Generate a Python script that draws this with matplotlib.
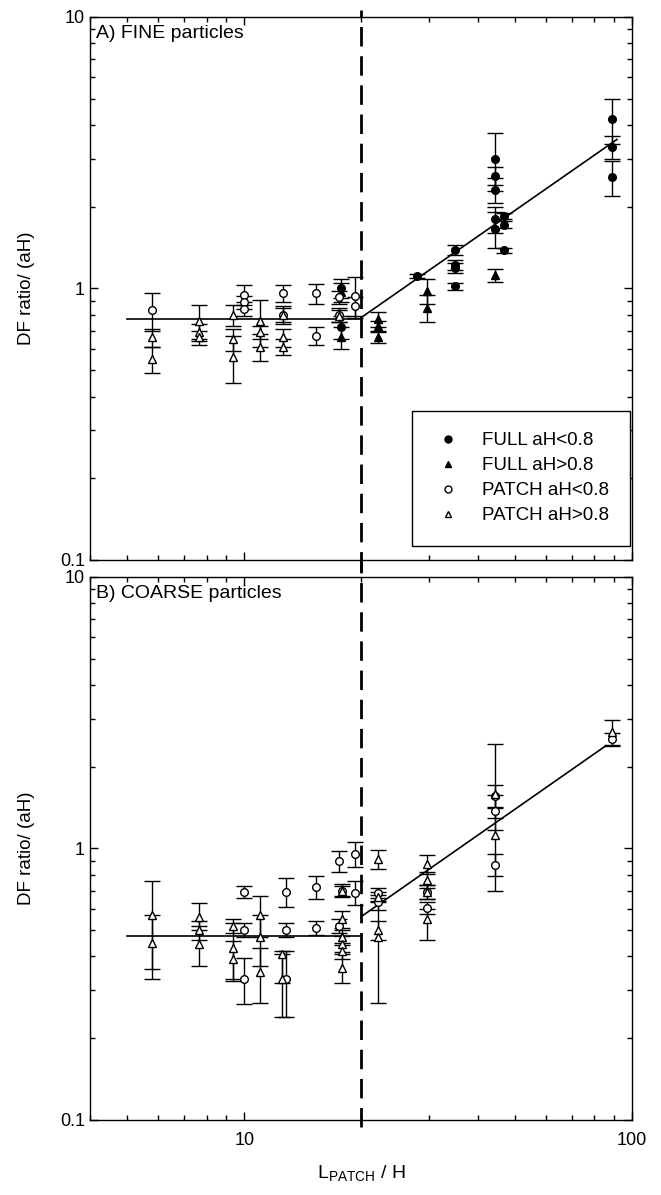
import matplotlib.pyplot as plt
from matplotlib.lines import Line2D
import numpy as np

plt.rcParams['font.family'] = ['Liberation Sans', 'DejaVu Sans']

# ---- data: panel A (fine particles) ----
a_full_lo_x = [17.8, 17.8, 27.9, 35, 35, 35, 35, 44.4, 44.4, 44.4, 44.4, 44.4, 46.8, 46.8, 46.8, 89, 89, 89]
a_full_lo_y = [1.00, 0.72, 1.11, 1.39, 1.22, 1.19, 1.02, 3.01, 2.60, 2.31, 1.80, 1.66, 1.85, 1.72, 1.38, 4.20, 3.31, 2.57]
a_full_lo_e = [0.08, 0.07, 0.02, 0.06, 0.05, 0.05, 0.03, 0.72, 0.20, 0.25, 0.20, 0.25, 0.05, 0.05, 0.03, 0.80, 0.32, 0.38]

a_full_hi_x = [17.8, 17.8, 22.2, 22.2, 22.2, 29.6, 29.6, 44.4]
a_full_hi_y = [0.97, 0.66, 0.77, 0.73, 0.66, 0.98, 0.85, 1.12]
a_full_hi_e = [0.08, 0.06, 0.05, 0.03, 0.03, 0.10, 0.10, 0.06]

a_patch_lo_x = [5.8, 10, 10, 10, 12.6, 12.6, 15.3, 15.3, 17.6, 17.6, 19.3, 19.3]
a_patch_lo_y = [0.83, 0.95, 0.89, 0.84, 0.96, 0.80, 0.96, 0.67, 0.93, 0.80, 0.94, 0.86]
a_patch_lo_e = [0.13, 0.08, 0.05, 0.05, 0.07, 0.05, 0.08, 0.05, 0.05, 0.05, 0.16, 0.07]

a_patch_hi_x = [5.8, 5.8, 7.65, 7.65, 7.65, 9.37, 9.37, 9.37, 11, 11, 11, 12.6, 12.6, 12.6, 17.6]
a_patch_hi_y = [0.66, 0.55, 0.76, 0.69, 0.66, 0.80, 0.65, 0.56, 0.76, 0.69, 0.61, 0.80, 0.66, 0.61, 0.79]
a_patch_hi_e = [0.05, 0.06, 0.11, 0.05, 0.04, 0.07, 0.06, 0.11, 0.15, 0.04, 0.07, 0.06, 0.05, 0.04, 0.04]

a_fit1_x = [5, 20]
a_fit1_y = [0.77, 0.77]
a_fit2_x = [20, 91.5]
a_fit2_y = [0.78, 3.54]

# ---- data: panel B (coarse particles) ----
b_circ_x = [10, 10, 10, 12.8, 12.8, 12.8, 15.3, 15.3, 17.6, 17.6, 17.9, 19.3, 19.3,
            22.1, 22.1, 29.6, 29.6, 44.3, 44.3, 44.3, 89]
b_circ_y = [0.69, 0.50, 0.33, 0.69, 0.50, 0.33, 0.72, 0.51, 0.90, 0.52, 0.70, 0.955, 0.687,
            0.687, 0.634, 0.693, 0.605, 1.56, 1.37, 0.87, 2.53]
b_circ_lo = [0.035, 0.03, 0.063, 0.08, 0.03, 0.09, 0.07, 0.03, 0.08, 0.03, 0.03, 0.10, 0.07,
             0.03, 0.04, 0.04, 0.03, 0.15, 0.20, 0.08, 0.14]
b_circ_hi = [0.04, 0.03, 0.064, 0.09, 0.03, 0.09, 0.07, 0.03, 0.08, 0.03, 0.03, 0.10, 0.07,
             0.03, 0.04, 0.04, 0.03, 0.15, 0.20, 0.08, 0.14]

b_tri_x = [5.8, 5.8, 7.65, 7.65, 7.65, 9.37, 9.37, 9.37, 11, 11, 11, 12.5, 12.5,
           17.9, 17.9, 17.9, 17.9, 17.9, 17.9, 22.1, 22.1, 22.1, 22.1,
           29.6, 29.6, 29.6, 29.6, 44.3, 44.3, 89]
b_tri_y = [0.57, 0.45, 0.56, 0.50, 0.445, 0.52, 0.43, 0.39, 0.57, 0.47, 0.35, 0.41, 0.33,
           0.70, 0.55, 0.47, 0.445, 0.42, 0.364, 0.915, 0.664, 0.50, 0.47,
           0.877, 0.766, 0.693, 0.55, 1.59, 1.12, 2.69]
b_tri_lo = [0.21, 0.12, 0.06, 0.04, 0.075, 0.03, 0.10, 0.065, 0.10, 0.10, 0.08, 0.17, 0.01,
            0.04, 0.04, 0.03, 0.03, 0.03, 0.044, 0.075, 0.03, 0.04, 0.20,
            0.07, 0.05, 0.04, 0.09, 0.30, 0.42, 0.28]
b_tri_hi = [0.19, 0.12, 0.07, 0.04, 0.075, 0.03, 0.10, 0.065, 0.10, 0.10, 0.08, 0.01, 0.08,
            0.04, 0.04, 0.03, 0.03, 0.03, 0.044, 0.075, 0.03, 0.04, 0.17,
            0.07, 0.05, 0.04, 0.05, 0.83, 0.30, 0.28]

b_fit1_x = [5, 20]
b_fit1_y = [0.476, 0.476]
b_fit2_x = [20, 85.7]
b_fit2_y = [0.56, 2.39]

legend_labels = ['FULL aH<0.8', 'FULL aH>0.8', 'PATCH aH<0.8', 'PATCH aH>0.8']

fig = plt.figure(figsize=(6.61, 11.95), dpi=100)
ax1 = fig.add_axes([0.136, 0.5314, 0.820, 0.4544])
ax2 = fig.add_axes([0.136, 0.0628, 0.820, 0.4544])

eb = dict(ecolor='black', elinewidth=1, capsize=6, capthick=1, linestyle='none',
          markeredgecolor='black', markersize=5.5, markeredgewidth=1)

# panel A
ax1.errorbar(a_full_lo_x, a_full_lo_y, yerr=a_full_lo_e, fmt='o', markerfacecolor='black', **eb)
ax1.errorbar(a_full_hi_x, a_full_hi_y, yerr=a_full_hi_e, fmt='^', markerfacecolor='black', **eb)
ax1.errorbar(a_patch_lo_x, a_patch_lo_y, yerr=a_patch_lo_e, fmt='o', markerfacecolor='white', **eb)
ax1.errorbar(a_patch_hi_x, a_patch_hi_y, yerr=a_patch_hi_e, fmt='^', markerfacecolor='white', **eb)
ax1.plot(a_fit1_x, a_fit1_y, color='black', lw=1.2)
ax1.plot(a_fit2_x, a_fit2_y, color='black', lw=1.2)

# panel B
ax2.errorbar(b_circ_x, b_circ_y, yerr=[b_circ_lo, b_circ_hi], fmt='o', markerfacecolor='white', **eb)
ax2.errorbar(b_tri_x, b_tri_y, yerr=[b_tri_lo, b_tri_hi], fmt='^', markerfacecolor='white', **eb)
ax2.plot(b_fit1_x, b_fit1_y, color='black', lw=1.2)
ax2.plot(b_fit2_x, b_fit2_y, color='black', lw=1.2)

# dashed separator at L/H = 20
ax1.axvline(20, ymin=-0.02, ymax=1.013, color='black', lw=2, dashes=(7, 3.5), clip_on=False)
ax2.axvline(20, ymin=-0.013, ymax=1.03, color='black', lw=2, dashes=(7, 3.5), clip_on=False)

for ax in (ax1, ax2):
    ax.set_xscale('log')
    ax.set_yscale('log')
    ax.set_xlim(4, 100)
    ax.set_ylim(0.1, 10)
    ax.set_xticks([10, 100])
    ax.set_yticks([0.1, 1, 10])
    ax.set_yticklabels(['0.1', '1', '10'])
    ax.tick_params(which='both', direction='in', top=True, right=True, labelsize=13)
    ax.tick_params(which='major', length=6, width=1)
    ax.tick_params(which='minor', length=3.5, width=1)
    for s in ax.spines.values():
        s.set_linewidth(1)
    ax.set_ylabel('DF ratio/ (aH)', fontsize=13.5, labelpad=18)

ax1.set_xticklabels([])
ax1.tick_params(axis='x', which='minor', labelbottom=False)
ax2.set_xticklabels(['10', '100'])
ax2.tick_params(axis='x', which='minor', labelbottom=False)
ax2.tick_params(axis='x', pad=9)
ax2.set_xlabel('L$_{\\mathregular{PATCH}}$ / H', fontsize=14, labelpad=10)

ax1.text(0.012, 0.985, 'A) FINE particles', transform=ax1.transAxes, fontsize=14, va='top', ha='left')
ax2.text(0.012, 0.985, 'B) COARSE particles', transform=ax2.transAxes, fontsize=14, va='top', ha='left')

handles = [
    Line2D([], [], linestyle='none', marker='o', markersize=5, color='black', markerfacecolor='black'),
    Line2D([], [], linestyle='none', marker='^', markersize=5, color='black', markerfacecolor='black'),
    Line2D([], [], linestyle='none', marker='o', markersize=5, color='black', markerfacecolor='white'),
    Line2D([], [], linestyle='none', marker='^', markersize=5, color='black', markerfacecolor='white'),
]
leg = ax1.legend(handles, legend_labels, loc='lower right', bbox_to_anchor=(0.997, 0.026),
                 fontsize=13.5, frameon=True, fancybox=False, edgecolor='black', framealpha=1,
                 borderpad=1.15, handlelength=1.5, handletextpad=1.05, labelspacing=0.42,
                 borderaxespad=0)
leg.get_frame().set_linewidth(1)

fig.savefig('out.png', dpi=100)
